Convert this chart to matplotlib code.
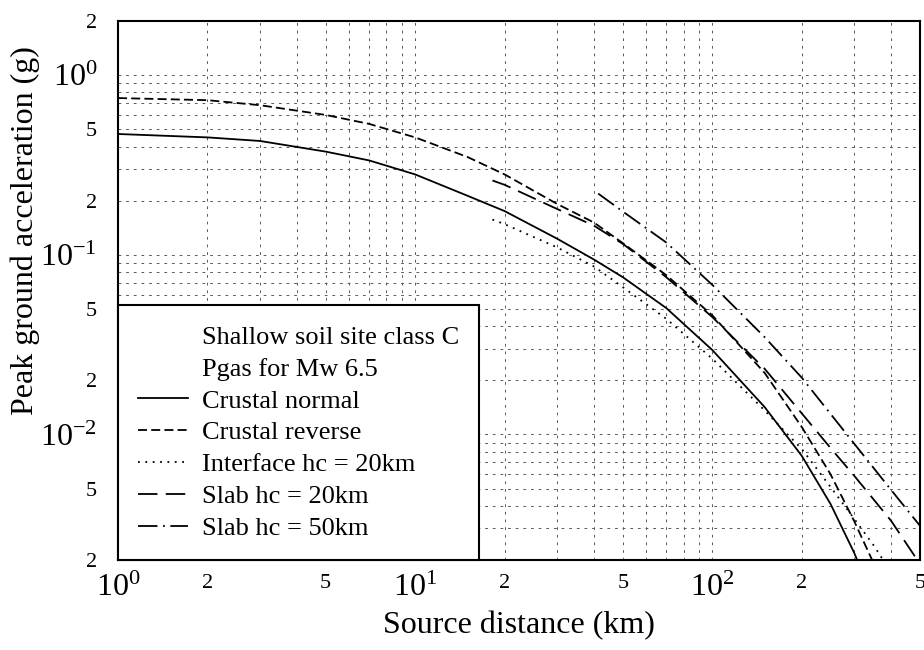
import matplotlib
matplotlib.use("Agg")
import matplotlib.pyplot as plt
from matplotlib.lines import Line2D
from matplotlib.ticker import FixedLocator, NullFormatter, LogLocator

plt.rcParams['font.family'] = ['Liberation Serif', 'DejaVu Serif']
plt.rcParams['mathtext.fontset'] = 'custom'
plt.rcParams['mathtext.rm'] = 'Liberation Serif'
plt.rcParams['mathtext.it'] = 'Liberation Serif:italic'
plt.rcParams['lines.scale_dashes'] = False

# ---- data ----
dist_normal = [1, 2, 3, 5, 7, 10, 15, 20, 30, 40, 50, 70, 100, 150, 200, 250, 300, 320]
pga_normal = [0.47, 0.45, 0.43, 0.375, 0.335, 0.28, 0.213, 0.175, 0.123, 0.094,
              0.075, 0.0505, 0.0295, 0.0142, 0.0076, 0.0041, 0.0022, 0.0017]

dist_reverse = [1, 2, 3, 5, 7, 10, 15, 20, 30, 40, 50, 70, 100, 150, 200, 250, 300, 350]
pga_reverse = [0.745, 0.725, 0.68, 0.60, 0.535, 0.45, 0.35, 0.28, 0.192, 0.151,
               0.116, 0.077, 0.046, 0.022, 0.011, 0.006, 0.0033, 0.0019]

dist_interface = [18.2, 20, 30, 40, 50, 70, 100, 150, 200, 250, 300, 350, 400]
pga_interface = [0.157, 0.148, 0.110, 0.086, 0.066, 0.044, 0.0264, 0.0136,
                 0.0083, 0.0051, 0.0034, 0.0024, 0.0017]

dist_slab20 = [18.2, 20, 30, 40, 50, 70, 100, 150, 200, 250, 300, 400, 500]
pga_slab20 = [0.259, 0.245, 0.18, 0.145, 0.115, 0.075, 0.045, 0.0232, 0.0131,
              0.0084, 0.0059, 0.0033, 0.0019]

dist_slab50 = [41.3, 50, 70, 100, 150, 200, 300, 400, 500]
pga_slab50 = [0.219, 0.174, 0.117, 0.068, 0.0348, 0.0207, 0.0089, 0.0049, 0.0031]

series_labels = ["Crustal normal", "Crustal reverse", "Interface hc = 20km",
                 "Slab hc = 20km", "Slab hc = 50km"]
legend_header = ["Shallow soil site class C", "Pgas for Mw 6.5"]

x_tick_values = [1, 2, 5, 10, 20, 50, 100, 200, 500]
x_tick_labels = [r"$10^{0}$", "2", "5", r"$10^{1}$", "2", "5", r"$10^{2}$", "2", "5"]
y_tick_values = [0.002, 0.005, 0.01, 0.02, 0.05, 0.1, 0.2, 0.5, 1, 2]
y_tick_labels = ["2", "5", r"$10^{-2}$", "2", "5", r"$10^{-1}$", "2", "5", r"$10^{0}$", "2"]

# ---- figure ----
fig = plt.figure(figsize=(9.24, 6.5), dpi=100)
ax = fig.add_axes([118 / 924, 90 / 650, 802 / 924, 539 / 650])
ax.set_xscale('log')
ax.set_yscale('log')
ax.set_xlim(1, 500)
ax.set_ylim(0.002, 2)

lw = 1.3
styles = [
    dict(linestyle='-'),
    dict(linestyle=(0, (6.5, 3.0))),
    dict(linestyle=(0, (1.3, 4.0))),
    dict(linestyle=(0, (14, 6))),
    dict(linestyle=(0, (14, 4, 1.3, 4))),
]
datasets = [(dist_normal, pga_normal), (dist_reverse, pga_reverse),
            (dist_interface, pga_interface), (dist_slab20, pga_slab20),
            (dist_slab50, pga_slab50)]
handles = []
for (d, p), st, lab in zip(datasets, styles, series_labels):
    h, = ax.plot(d, p, color='black', lw=lw, label=lab, zorder=3, **st)
    handles.append(h)

# grid at all decade subdivisions
ax.xaxis.set_major_locator(FixedLocator(x_tick_values))
ax.yaxis.set_major_locator(FixedLocator(y_tick_values))
ax.xaxis.set_minor_locator(LogLocator(base=10, subs=[1, 2, 3, 4, 5, 6, 7, 8, 9], numticks=20))
ax.yaxis.set_minor_locator(LogLocator(base=10, subs=[1, 2, 3, 4, 5, 6, 7, 8, 9], numticks=20))
ax.xaxis.set_minor_formatter(NullFormatter())
ax.yaxis.set_minor_formatter(NullFormatter())
ax.grid(True, which='both', linestyle=(0, (2.0, 3.5)), color='0.35', lw=0.7, zorder=1)
ax.set_axisbelow(True)

ax.set_xticklabels(x_tick_labels)
ax.set_yticklabels(y_tick_labels)
ax.tick_params(which='both', length=0)
ax.tick_params(axis='x', pad=10)
ax.tick_params(axis='y', pad=15)
for t in ax.get_xticklabels() + ax.get_yticklabels():
    if '10' in t.get_text():
        t.set_fontsize(23)
    else:
        t.set_fontsize(16)

for s in ax.spines.values():
    s.set_linewidth(1.5)
    s.set_color('black')

ax.set_xlabel("Source distance (km)", fontsize=23, labelpad=6)
ax.set_ylabel("Peak ground acceleration (g)", fontsize=23)
ax.yaxis.set_label_coords(-0.097, 0.612)

blank = [Line2D([], [], color='none') for _ in legend_header]
leg = ax.legend(blank + handles, legend_header + series_labels,
                loc='lower left', bbox_to_anchor=(0, 0), borderaxespad=0,
                fontsize=19, frameon=True, fancybox=False, framealpha=1,
                edgecolor='black', handlelength=1.9, handletextpad=0.52,
                labelspacing=0.32, borderpad=0.75)
leg.get_frame().set_linewidth(1.5)
leg.set_zorder(5)

fig.savefig("out.png", dpi=100)
